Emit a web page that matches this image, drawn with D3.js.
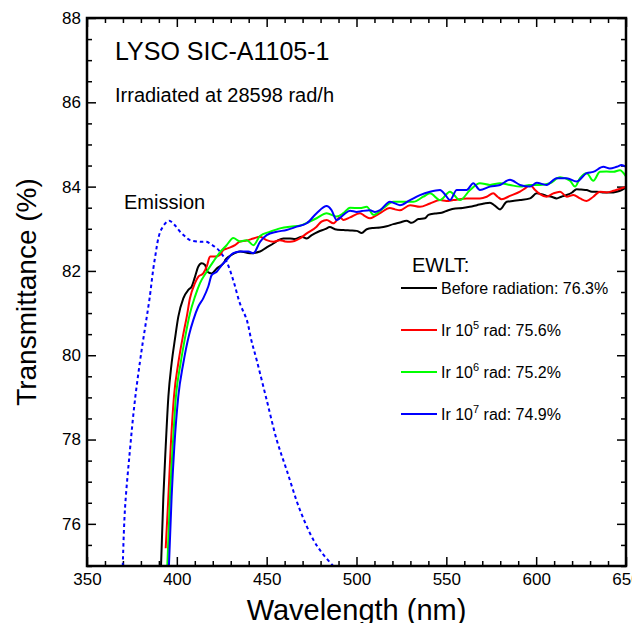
<!DOCTYPE html>
<html>
<head>
<meta charset="utf-8">
<script src="https://cdn.jsdelivr.net/npm/d3@7"></script>
<style>
  body { margin: 0; background: #fff; }
  svg text { font-family: "Liberation Sans", Arial, sans-serif; fill: #000; }
</style>
</head>
<body>
<svg width="632" height="623"></svg>
<script>
// Tick labels
const wlTicks = [350, 400, 450, 500, 550, 600, 650];
const tTicks = [76, 78, 80, 82, 84, 86, 88];

// Transmittance curves, [wavelength nm, transmittance %]
const before = [[391.2,75.0],[392.5,76.64],[393.8,77.83],[395.3,79.02],[397.1,79.81],[399.0,80.40],[400.8,80.91],[403.6,81.35],[406.4,81.55],[408.3,81.63],[410.1,81.86],[411.9,82.10],[413.8,82.18],[415.7,82.14],[417.0,81.98],[419.4,81.94],[422.2,82.06],[425.9,82.18],[427.7,82.30],[430.5,82.38],[435.2,82.46],[440.7,82.42],[446.3,82.46],[450.0,82.56],[453.7,82.65],[456.5,82.73],[459.3,82.77],[463.0,82.77],[465.8,82.76],[469.5,82.81],[472.3,82.77],[475.1,82.85],[478.7,82.93],[482.5,82.99],[485.2,83.04],[488.0,82.99],[492.7,82.97],[496.4,82.96],[500.1,82.95],[502.9,82.90],[505.7,82.99],[509.4,83.02],[513.1,83.03],[516.8,83.06],[520.5,83.11],[524.2,83.15],[527.9,83.19],[530.7,83.14],[534.4,83.23],[538.1,83.25],[540.0,83.33],[543.7,83.36],[547.4,83.38],[551.1,83.44],[555.0,83.48],[559.0,83.49],[563.0,83.52],[567.0,83.56],[571.0,83.60],[574.3,83.62],[577.0,83.55],[579.9,83.46],[583.6,83.64],[587.0,83.66],[591.0,83.68],[596.6,83.72],[600.3,83.84],[603.0,83.82],[605.8,83.78],[608.5,83.76],[611.4,83.72],[614.0,83.76],[617.0,83.80],[620.0,83.86],[622.5,83.94],[625.0,83.93],[628.1,83.92],[631.0,83.88],[633.7,83.88],[637.0,83.86],[641.0,83.86],[644.8,83.88],[647.6,83.92],[650.0,83.98]];

const ir5 = [[393.8,75.42],[395.3,76.64],[396.6,77.83],[398.4,79.02],[400.8,79.81],[403.6,80.50],[405.5,80.91],[407.3,81.35],[410.1,81.71],[411.9,81.86],[414.7,81.94],[416.6,82.10],[418.5,82.34],[421.2,82.34],[424.0,82.38],[425.9,82.50],[428.6,82.54],[432.4,82.61],[435.2,82.70],[438.9,82.72],[442.6,82.77],[446.3,82.81],[450.0,82.73],[453.7,82.69],[457.4,82.73],[460.2,82.70],[463.0,82.69],[468.5,82.77],[472.3,82.89],[477.8,83.05],[480.5,83.17],[483.4,83.21],[487.1,83.13],[490.8,83.27],[492.7,83.21],[496.4,83.27],[501.9,83.37],[504.7,83.30],[507.5,83.25],[510.3,83.30],[513.1,83.37],[518.6,83.49],[521.4,83.46],[524.2,83.44],[529.8,83.56],[535.3,83.52],[540.9,83.60],[546.5,83.68],[550.0,83.66],[553.9,83.68],[561.3,83.72],[568.7,83.72],[572.5,83.76],[576.1,83.84],[578.5,83.76],[580.8,83.70],[585.4,83.78],[591.0,83.88],[593.8,83.96],[596.6,84.04],[599.4,83.92],[602.1,83.82],[605.8,83.76],[609.6,83.84],[613.3,83.88],[617.0,83.76],[620.7,83.80],[624.4,83.72],[628.1,83.66],[631.8,83.76],[635.5,83.88],[639.2,83.86],[643.0,83.90],[646.6,83.95],[650.0,83.99]];

const ir6 = [[394.7,75.0],[396.2,76.64],[397.7,77.83],[399.5,79.02],[402.1,79.81],[404.5,80.40],[407.3,80.99],[410.1,81.39],[412.9,81.71],[416.6,81.98],[420.3,82.22],[424.0,82.44],[427.7,82.61],[431.4,82.78],[435.2,82.70],[438.9,82.73],[442.6,82.61],[446.3,82.83],[451.9,82.93],[457.4,83.01],[463.0,83.05],[468.5,83.07],[472.3,83.14],[477.8,83.25],[483.4,83.37],[489.0,83.29],[492.7,83.37],[496.4,83.50],[501.9,83.49],[505.7,83.52],[509.4,83.33],[514.9,83.49],[520.5,83.64],[526.0,83.64],[531.6,83.64],[537.2,83.76],[540.9,83.84],[546.5,83.68],[552.0,83.88],[557.6,83.68],[563.2,83.92],[568.7,84.08],[574.3,84.04],[579.9,84.08],[585.4,84.04],[591.0,84.00],[596.6,84.04],[602.1,84.04],[607.7,84.08],[613.3,84.22],[618.8,84.14],[621.6,84.00],[624.4,84.20],[628.1,84.32],[631.8,84.14],[635.5,84.35],[639.2,84.36],[643.0,84.35],[646.6,84.39],[650.0,84.24]];

const ir7 = [[395.6,75.0],[397.1,76.64],[398.6,77.83],[400.8,79.02],[403.6,79.81],[406.9,80.50],[409.2,80.84],[411.9,81.15],[414.7,81.35],[417.5,81.63],[419.4,81.90],[422.2,81.98],[425.0,82.14],[427.7,82.26],[431.4,82.42],[435.2,82.46],[439.8,82.46],[442.6,82.42],[446.3,82.69],[450.0,82.85],[455.6,82.93],[461.1,82.97],[466.7,83.05],[472.3,83.13],[477.8,83.37],[483.4,83.54],[486.0,83.45],[489.0,83.21],[492.7,83.33],[496.4,83.43],[500.1,83.40],[503.0,83.42],[507.5,83.44],[510.3,83.40],[513.1,83.44],[518.6,83.64],[524.2,83.56],[529.8,83.68],[535.3,83.80],[540.9,83.88],[546.5,83.92],[549.5,83.80],[552.0,83.68],[555.8,83.92],[561.3,83.92],[565.0,84.08],[568.7,83.92],[574.3,84.00],[579.9,84.04],[585.4,84.16],[591.0,84.04],[596.6,84.00],[600.3,84.09],[605.8,84.04],[611.4,84.20],[617.0,84.20],[622.5,84.12],[628.1,84.32],[631.8,84.35],[637.4,84.47],[641.0,84.43],[644.8,84.47],[647.6,84.51],[650.0,84.47]];

// Emission spectrum, drawn on the same axis scale
const emission = [[369.9,75.0],[371.1,76.33],[373.9,77.75],[376.7,78.94],[380.4,80.12],[382.5,80.70],[384.7,81.31],[387.8,82.30],[391.2,82.97],[395.6,83.19],[398.5,83.10],[401.8,82.93],[404.5,82.82],[407.3,82.73],[412.9,82.69],[416.6,82.69],[419.4,82.62],[422.2,82.54],[425.0,82.40],[427.7,82.22],[431.4,81.78],[435.1,81.23],[438.9,80.84],[441.5,80.35],[444.4,79.89],[450.0,78.94],[455.6,77.99],[461.1,77.28],[468.5,76.33],[476.0,75.62],[481.0,75.30],[487.0,75.0]];

const seriesNames = ["Before radiation: 76.3%", "Ir 10|5| rad: 75.6%", "Ir 10|6| rad: 75.2%", "Ir 10|7| rad: 74.9%"];
const seriesColors = ["#000000", "#ff0000", "#00ff00", "#0000ff"];
const seriesData = [before, ir5, ir6, ir7];

const svg = d3.select("svg");

// plot frame in pixels
const pLeft = 87, pRight = 626, pTop = 18, pBottom = 566;

const x = d3.scaleLinear().domain([350, 650]).range([pLeft, pRight]);
const y = d3.scaleLinear().domain([75, 88]).range([pBottom, pTop]);

svg.append("defs").append("clipPath").attr("id", "plot")
  .append("rect")
  .attr("x", pLeft).attr("y", pTop)
  .attr("width", pRight - pLeft).attr("height", pBottom - pTop);

// minor ticks first, then major ticks with labels
const minorX = d3.range(350, 651, 10).filter(d => d % 50 !== 0);
const minorY = d3.range(75, 88.01, 0.5).filter(d => d % 2 !== 0);

const tickStyle = g => {
  g.select(".domain").remove();
  g.selectAll(".tick line").attr("stroke", "#000").attr("stroke-width", 1.5);
  g.selectAll(".tick text").attr("font-size", 17).attr("fill", "#000")
    .attr("font-family", '"Liberation Sans", Arial, sans-serif');
};

// bottom
svg.append("g").attr("transform", `translate(0,${pBottom})`)
  .call(d3.axisBottom(x).tickValues(minorX).tickSize(-5).tickFormat(""))
  .call(tickStyle);
svg.append("g").attr("transform", `translate(0,${pBottom})`)
  .call(d3.axisBottom(x).tickValues(wlTicks).tickSize(-9).tickPadding(7).tickFormat(d3.format("d")))
  .call(tickStyle);
// top
svg.append("g").attr("transform", `translate(0,${pTop})`)
  .call(d3.axisTop(x).tickValues(minorX).tickSize(-5).tickFormat(""))
  .call(tickStyle);
svg.append("g").attr("transform", `translate(0,${pTop})`)
  .call(d3.axisTop(x).tickValues(wlTicks).tickSize(-9).tickFormat(""))
  .call(tickStyle);
// left
svg.append("g").attr("transform", `translate(${pLeft},0)`)
  .call(d3.axisLeft(y).tickValues(minorY).tickSize(-5).tickFormat(""))
  .call(tickStyle);
svg.append("g").attr("transform", `translate(${pLeft},0)`)
  .call(d3.axisLeft(y).tickValues(tTicks).tickSize(-9).tickPadding(6).tickFormat(d3.format("d")))
  .call(tickStyle);
// right
svg.append("g").attr("transform", `translate(${pRight},0)`)
  .call(d3.axisRight(y).tickValues(minorY).tickSize(-5).tickFormat(""))
  .call(tickStyle);
svg.append("g").attr("transform", `translate(${pRight},0)`)
  .call(d3.axisRight(y).tickValues(tTicks).tickSize(-9).tickFormat(""))
  .call(tickStyle);

// Emission curve (dotted blue)
const smooth = d3.line().x(d => x(d[0])).y(d => y(d[1])).curve(d3.curveCatmullRom);
svg.append("path")
  .attr("clip-path", "url(#plot)")
  .attr("d", smooth(emission))
  .attr("fill", "none")
  .attr("stroke", "#0000ff")
  .attr("stroke-width", 2)
  .attr("stroke-dasharray", "3.5,3");

// Transmittance curves
const line = d3.line().x(d => x(d[0])).y(d => y(d[1])).curve(d3.curveMonotoneX);
seriesData.forEach((s, i) => {
  svg.append("path")
    .attr("clip-path", "url(#plot)")
    .attr("d", line(s))
    .attr("fill", "none")
    .attr("stroke", seriesColors[i])
    .attr("stroke-width", 2)
    .attr("stroke-linejoin", "round");
});

// frame
svg.append("rect")
  .attr("x", pLeft).attr("y", pTop)
  .attr("width", pRight - pLeft).attr("height", pBottom - pTop)
  .attr("fill", "none").attr("stroke", "#000").attr("stroke-width", 2.5);

// Titles inside the plot
svg.append("text").attr("x", 115).attr("y", 60).attr("font-size", 25).text("LYSO SIC-A1105-1");
svg.append("text").attr("x", 115).attr("y", 102).attr("font-size", 20).text("Irradiated at 28598 rad/h");
svg.append("text").attr("x", 124).attr("y", 209).attr("font-size", 20).text("Emission");

// Legend
svg.append("text").attr("x", 412).attr("y", 272).attr("font-size", 20).text("EWLT:");
const legRows = [288, 330, 372, 414];
seriesNames.forEach((name, i) => {
  const ly = legRows[i];
  svg.append("line")
    .attr("x1", 401).attr("x2", 437).attr("y1", ly).attr("y2", ly)
    .attr("stroke", seriesColors[i]).attr("stroke-width", 2);
  const t = svg.append("text").attr("x", 441).attr("y", ly + 6).attr("font-size", 16);
  const parts = name.split("|");
  t.append("tspan").text(parts[0]);
  if (parts.length > 1) {
    t.append("tspan").attr("font-size", 11).attr("dy", -7).text(parts[1]);
    t.append("tspan").attr("dy", 7).text(parts[2]);
  }
});

// Axis titles
svg.append("text")
  .attr("x", (pLeft + pRight) / 2).attr("y", 620)
  .attr("text-anchor", "middle").attr("font-size", 29)
  .text("Wavelength (nm)");
svg.append("text")
  .attr("transform", `translate(36,${(pTop + pBottom) / 2}) rotate(-90)`)
  .attr("text-anchor", "middle").attr("font-size", 28)
  .text("Transmittance (%)");
</script>
</body>
</html>
